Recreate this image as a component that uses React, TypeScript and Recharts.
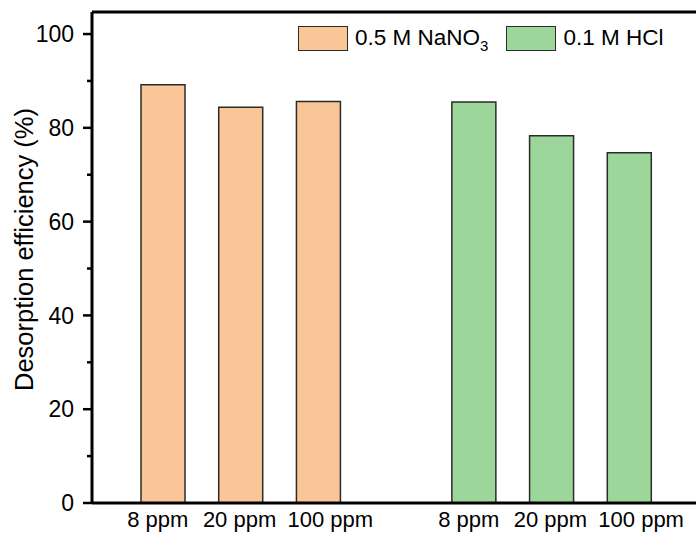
import { BarChart, Bar, XAxis, YAxis, ReferenceLine } from 'recharts';

const concentrations = ['8 ppm', '20 ppm', '100 ppm', '', '8 ppm', '20 ppm', '100 ppm'];
const nitrateValues = [89.2, 84.4, 85.6, null, null, null, null];
const hclValues = [null, null, null, null, 85.5, 78.3, 74.7];
const yTicks = [0, 10, 20, 30, 40, 50, 60, 70, 80, 90, 100];
const yMax = 104.7;

const FONT = '"Liberation Sans", Arial, sans-serif';
const ORANGE = '#FAC597';
const GREEN = '#9DD69B';
const EDGE = '#2b2b2b';

// labels sit slightly off-centre so the longer ones don't collide
const labelShift: Record<string, number> = { '8 ppm': -5, '20 ppm': -1, '100 ppm': 12 };

const rows = concentrations.map((c, i) => ({
  slot: i,
  label: c,
  nitrate: nitrateValues[i],
  hcl: hclValues[i],
}));

function XTick({ x, y, payload }: any) {
  const text = concentrations[payload.value];
  if (!text) return null;
  return (
    <text x={x + (labelShift[text] ?? 0)} y={y} dy="0.71em" textAnchor="middle" fontSize={22} fontFamily={FONT} fill="#000">
      {text}
    </text>
  );
}

function YTick({ x, y, payload }: any) {
  const major = payload.value % 20 === 0;
  return (
    <g>
      <line x1={x + (major ? 9 : 13)} x2={x + 18} y1={y} y2={y} stroke="#000" strokeWidth={2.5} />
      {major && (
        <text x={x} y={y} dy="0.36em" textAnchor="end" fontSize={23} fontFamily={FONT} fill="#000">
          {payload.value}
        </text>
      )}
    </g>
  );
}

function YLabel({ viewBox }: any) {
  const cx = viewBox.x + 24;
  const cy = viewBox.y + viewBox.height / 2 - 8;
  return (
    <text
      x={cx}
      y={cy}
      transform={`rotate(-90, ${cx}, ${cy})`}
      textAnchor="middle"
      dominantBaseline="central"
      fontSize={25.5}
      fontFamily={FONT}
      fill="#000"
    >
      Desorption efficiency (%)
    </text>
  );
}

function LegendBox({ color }: { color: string }) {
  return (
    <span
      style={{
        display: 'inline-block',
        width: 48,
        height: 23,
        background: color,
        border: `1.5px solid ${EDGE}`,
        marginRight: 7,
      }}
    />
  );
}

function SeriesLegend() {
  return (
    <div
      style={{
        position: 'absolute',
        top: 25,
        left: 298,
        display: 'flex',
        alignItems: 'center',
        fontFamily: FONT,
        fontSize: 22.5,
        color: '#000',
        lineHeight: '26px',
      }}
    >
      <LegendBox color={ORANGE} />
      <span style={{ marginRight: 18 }}>
        0.5 M NaNO<sub style={{ fontSize: 15, lineHeight: 0, verticalAlign: -6 }}>3</sub>
      </span>
      <LegendBox color={GREEN} />
      <span>0.1 M HCl</span>
    </div>
  );
}

export default function App() {
  return (
    <div style={{ position: 'absolute', left: 0, top: 0, width: 696, height: 540, background: '#fff' }}>
      <BarChart width={696} height={540} data={rows} margin={{ top: 12, right: 0, bottom: 0, left: 0 }}>
        <XAxis
          dataKey="slot"
          type="category"
          padding={{ left: 32, right: 28 }}
          height={37}
          tickSize={0}
          tickMargin={8}
          tickLine={false}
          axisLine={{ stroke: '#000', strokeWidth: 3 }}
          tick={<XTick />}
          interval={0}
        />
        <YAxis
          type="number"
          domain={[0, yMax]}
          ticks={yTicks}
          width={92}
          tickSize={9}
          tickMargin={9}
          tickLine={false}
          axisLine={{ stroke: '#000', strokeWidth: 3 }}
          tick={<YTick />}
          interval={0}
          label={{ content: <YLabel /> }}
        />
        <ReferenceLine y={yMax} stroke="#000" strokeWidth={3} />
        <Bar
          dataKey="nitrate"
          name="0.5 M NaNO3"
          stackId="s"
          barSize={44}
          fill={ORANGE}
          stroke={EDGE}
          strokeWidth={1.5}
          isAnimationActive={false}
        />
        <Bar
          dataKey="hcl"
          name="0.1 M HCl"
          stackId="s"
          barSize={44}
          fill={GREEN}
          stroke={EDGE}
          strokeWidth={1.5}
          isAnimationActive={false}
        />
      </BarChart>
      <SeriesLegend />
    </div>
  );
}
